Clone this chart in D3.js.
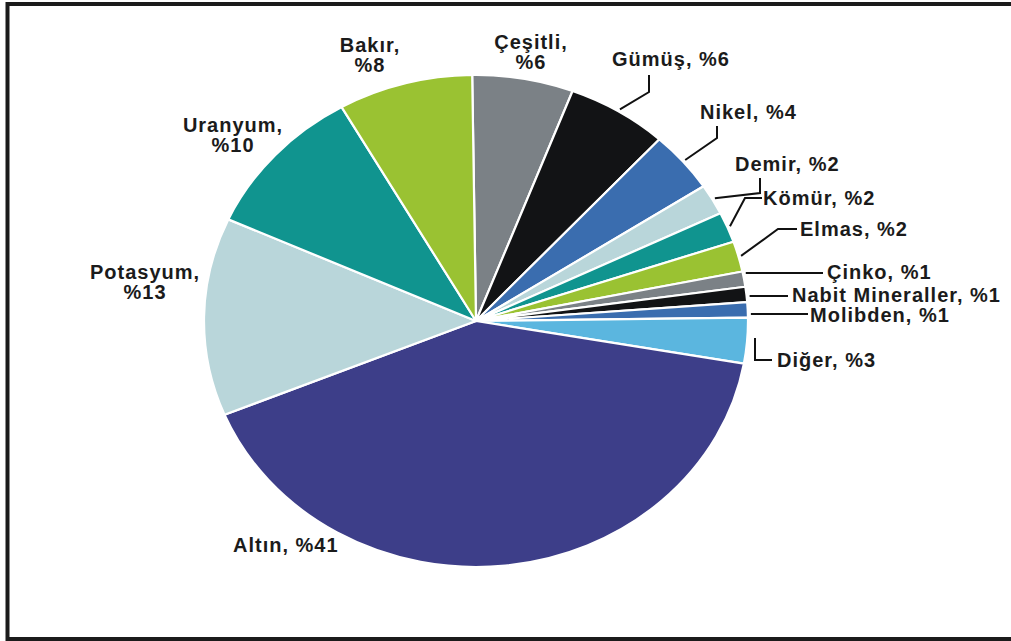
<!DOCTYPE html>
<html>
<head>
<meta charset="utf-8">
<script src="https://cdn.jsdelivr.net/npm/d3@7"></script>
<style>
  html, body { margin: 0; padding: 0; background: #fff; }
  svg { display: block; }
  .lbl { font-family: "Liberation Sans", Arial, sans-serif; font-weight: bold; font-size: 20px; letter-spacing: 1px; fill: #1b1b1b; }
</style>
</head>
<body>
<script>
// Maden türlerine göre pay (%)
const categories = ["Çeşitli", "Gümüş", "Nikel", "Demir", "Kömür", "Elmas", "Çinko",
  "Nabit Mineraller", "Molibden", "Diğer", "Altın", "Potasyum", "Uranyum", "Bakır"];
const shares = [6, 6, 4, 2, 2, 2, 1, 1, 1, 3, 41, 13, 10, 8];
const colors = ["#7b8186", "#121315", "#3a6daf", "#b9d6da", "#10948f", "#9ac232", "#7b8186",
  "#121315", "#3a6daf", "#5bb6df", "#3d3e89", "#b9d6da", "#10948f", "#9ac232"];

const W = 1011, H = 641;
const cx = 476, cy = 321, rx = 272, ry = 246;
const rot = -0.014;

const svg = d3.select("body").append("svg").attr("width", W).attr("height", H);
svg.append("rect").attr("width", W).attr("height", H).attr("fill", "#fff");

// frame
svg.append("rect").attr("x", 7.5).attr("y", 4).attr("width", 1100).attr("height", 635)
  .attr("fill", "none").attr("stroke", "#1b1b1b").attr("stroke-width", 4);

const data = categories.map((c, i) => ({ name: c, value: shares[i], color: colors[i] }));
const pie = d3.pie().value(d => d.value).sort(null).startAngle(rot).endAngle(rot + 2 * Math.PI);
const arcs = pie(data);
const arc = d3.arc().innerRadius(0).outerRadius(rx);

const g = svg.append("g").attr("transform", `translate(${cx},${cy}) scale(1,${ry / rx})`);
g.selectAll("path").data(arcs).join("path")
  .attr("d", arc)
  .attr("fill", d => d.data.color)
  .attr("stroke", "#fff")
  .attr("stroke-width", 2.2)
  .attr("stroke-linejoin", "round")
  .attr("vector-effect", "non-scaling-stroke");

// point on the pie edge at a given angle
function edge(a, k = 1) {
  return [cx + rx * k * Math.sin(a), cy - ry * k * Math.cos(a)];
}
// x on the pie edge (right side) at a given y
function edgeX(y) {
  const t = (y - cy) / ry;
  return cx + rx * Math.sqrt(Math.max(0, 1 - t * t));
}

// label layout: text lines, anchor, x, baseline y, leader path
const labels = [
  { name: "Bakır", lines: ["Bakır,", "%8"], anchor: "middle", x: 370, y: 52 },
  { name: "Çeşitli", lines: ["Çeşitli,", "%6"], anchor: "middle", x: 531, y: 49 },
  { name: "Gümüş", lines: ["Gümüş, %6"], anchor: "start", x: 612, y: 66, leader: "angle", pts: [[649, 92], [649, 75]] },
  { name: "Nikel", lines: ["Nikel, %4"], anchor: "start", x: 700, y: 119, leader: "angle", pts: [[717, 138], [717, 126]] },
  { name: "Demir", lines: ["Demir, %2"], anchor: "start", x: 735, y: 171, leader: "angle", pts: [[760, 193], [760, 178]] },
  { name: "Kömür", lines: ["Kömür, %2"], anchor: "start", x: 763, y: 205, leader: "angle", pts: [[745, 198], [762, 198]] },
  { name: "Elmas", lines: ["Elmas, %2"], anchor: "start", x: 800, y: 236, leader: "angle", pts: [[778, 229], [797, 229]] },
  { name: "Çinko", lines: ["Çinko, %1"], anchor: "start", x: 827, y: 279, leader: "flat", ly: 273, end: 823 },
  { name: "Nabit Mineraller", lines: ["Nabit Mineraller, %1"], anchor: "start", x: 792, y: 302, leader: "flat", ly: 296, end: 788 },
  { name: "Molibden", lines: ["Molibden, %1"], anchor: "start", x: 810, y: 322, leader: "flat", ly: 314, end: 808 },
  { name: "Diğer", lines: ["Diğer, %3"], anchor: "start", x: 777, y: 367, leader: "angle", pts: [[755, 360], [772, 360]], fromTop: true },
  { name: "Altın", lines: ["Altın, %41"], anchor: "start", x: 233, y: 552 },
  { name: "Potasyum", lines: ["Potasyum,", "%13"], anchor: "middle", x: 145, y: 279 },
  { name: "Uranyum", lines: ["Uranyum,", "%10"], anchor: "middle", x: 233, y: 132 }
];

const line = d3.line();
labels.forEach(l => {
  const a = arcs.find(d => d.data.name === l.name);
  if (l.leader === "angle") {
    let start;
    if (l.fromTop) {
      start = [l.pts[0][0], l.pts[0][1] - 22];
    } else {
      const mid = (a.startAngle + a.endAngle) / 2;
      start = edge(mid, 1.01);
    }
    svg.append("path").attr("d", line([start, ...l.pts]))
      .attr("fill", "none").attr("stroke", "#111").attr("stroke-width", 2);
  } else if (l.leader === "flat") {
    svg.append("path").attr("d", line([[edgeX(l.ly) + 3, l.ly], [l.end, l.ly]]))
      .attr("fill", "none").attr("stroke", "#111").attr("stroke-width", 2);
  }
  const t = svg.append("text").attr("class", "lbl").attr("text-anchor", l.anchor);
  l.lines.forEach((s, i) => {
    t.append("tspan").attr("x", l.x).attr("y", l.y + i * 20).text(s);
  });
});
</script>
</body>
</html>
